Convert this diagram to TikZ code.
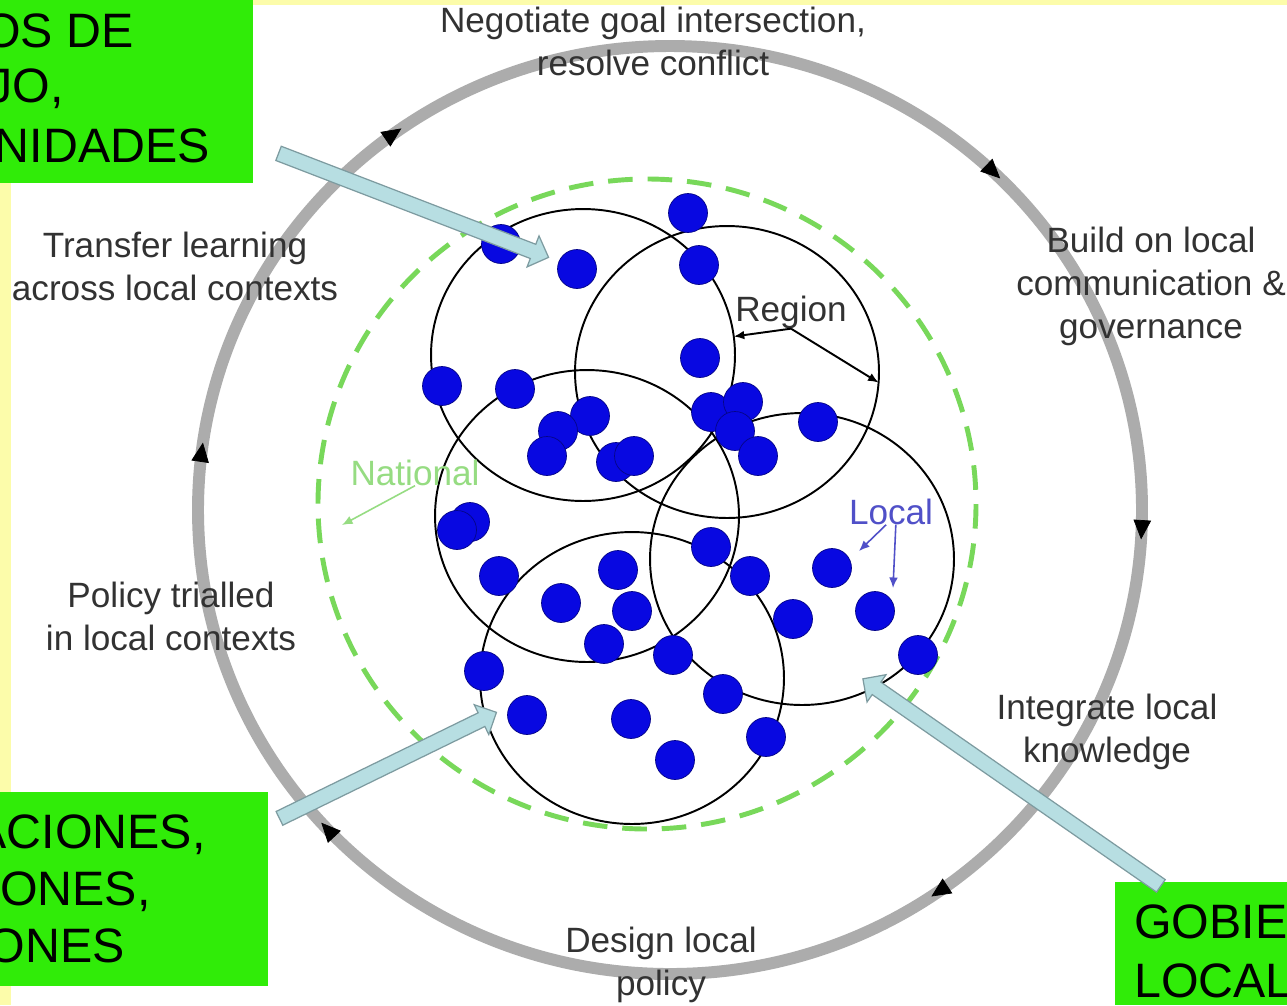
\documentclass[tikz,border=0pt]{standalone}
\usepackage{fontspec}
\setmainfont{Liberation Sans}
\usepackage{tkz-graph}
\usetikzlibrary{arrows.meta}
\usetikzlibrary{shapes.arrows}
\usetikzlibrary{shapes.geometric}
\usetikzlibrary{calc}
\usetikzlibrary{decorations.markings}

\definecolor{padyellow}{RGB}{252,252,170}
\definecolor{boxgreen}{RGB}{48,236,8}
\definecolor{ringgray}{RGB}{172,172,172}
\definecolor{labgray}{RGB}{50,50,50}
\definecolor{natgreen}{RGB}{120,216,90}
\definecolor{natlabel}{RGB}{150,220,130}
\definecolor{dotblue}{RGB}{8,8,225}
\definecolor{localblue}{RGB}{80,80,200}
\definecolor{calloutfill}{RGB}{183,222,226}
\definecolor{calloutedge}{RGB}{125,155,160}

\tikzset{ringtip/.tip = {Triangle[length = 11pt, width = 10pt]},
         lbl/.style = {font = \fontsize{20}{24.3}\selectfont, text = labgray, inner sep = 0pt, align = center, anchor = base},
         boxtext/.style = {font = \fontsize{27.5}{32}\selectfont, text = black, inner sep = 0pt},
         thinarrow/.style = {line width = 1.1pt, -{Latex[length = 6pt, width = 5pt]}},
         callout/.style = {single arrow, draw = calloutedge, fill = calloutfill, line width = 0.7pt,
                           inner xsep = 0pt, inner ysep = 0.14cm, minimum width = 0pt,
                           single arrow head extend = 0.18cm, single arrow head indent = 0pt}}

\begin{document}
\begin{tikzpicture}[x = 0.02cm, y = -0.02cm]
\useasboundingbox (0,0) rectangle (1287,1005);
\clip (0,0) rectangle (1287,1005);
\fill[padyellow] (0,0) rectangle (1287,1005);
\fill[white] (11,5) rectangle (1287,1005);
\fill[boxgreen] (0,0) rectangle (253,183);
\fill[boxgreen] (0,792) rectangle (268,986);
\fill[boxgreen] (1115,882) rectangle (1287,1005);

\draw[ringgray, line width = 6.8pt] (670,510) ellipse [x radius = 472, y radius = 464];
\path[black, postaction = {decorate}, decoration = {markings,
      mark = at position 0.010 with {\arrow{ringtip}},
      mark = at position 0.156 with {\arrow{ringtip}},
      mark = at position 0.383 with {\arrow{ringtip}},
      mark = at position 0.523 with {\arrow{ringtip}},
      mark = at position 0.653 with {\arrow{ringtip}},
      mark = at position 0.874 with {\arrow{ringtip}}}]
      (670,510) ellipse [x radius = 472, y radius = 464];
\draw[natgreen, line width = 2.8pt, dash pattern = on 14pt off 8.5pt] (647,504) ellipse [x radius = 329, y radius = 325];

\node[lbl] (negotiate) at (653,75) {Negotiate goal intersection,\\resolve conflict};
\node[lbl] (build) at (1151,338) {Build on local\\communication \&\\governance};
\node[lbl] (integrate) at (1107,762) {Integrate local\\knowledge};
\node[lbl] (design) at (661,995) {Design local\\policy};
\node[lbl] (trialled) at (171,650) {Policy trialled\\in local contexts};
\node[lbl] (transfer) at (175,300) {Transfer learning\\across local contexts};

\tikzstyle{VertexStyle}=[shape = ellipse,
                         minimum width = 6.08cm,
                         minimum height = 5.84cm,
                         inner sep = 0pt,
                         outer sep = 0pt,
                         line width = 1.1pt,
                         draw]
\Vertex[x = 583, y = 355, NoLabel]{rA}
\Vertex[x = 727, y = 372, NoLabel]{rB}
\Vertex[x = 587, y = 516, NoLabel]{rC}
\Vertex[x = 802, y = 559, NoLabel]{rD}
\Vertex[x = 632, y = 678, NoLabel]{rE}

\tikzstyle{VertexStyle}=[shape = circle,
                         minimum size = 0.78cm,
                         inner sep = 0pt,
                         fill = dotblue,
                         draw = dotblue!60!black,
                         line width = 0.4pt]
\Vertex[x = 501, y = 244, NoLabel]{d1}
\Vertex[x = 577, y = 269, NoLabel]{d2}
\Vertex[x = 688, y = 213, NoLabel]{d3}
\Vertex[x = 699, y = 265, NoLabel]{d4}
\Vertex[x = 700, y = 358, NoLabel]{d5}
\Vertex[x = 442, y = 386, NoLabel]{d6}
\Vertex[x = 515, y = 389, NoLabel]{d7}
\Vertex[x = 590, y = 416, NoLabel]{d8}
\Vertex[x = 558, y = 431, NoLabel]{d9}
\Vertex[x = 547, y = 456, NoLabel]{d10}
\Vertex[x = 616, y = 462, NoLabel]{d11}
\Vertex[x = 634, y = 456, NoLabel]{d12}
\Vertex[x = 711, y = 412, NoLabel]{d13}
\Vertex[x = 743, y = 402, NoLabel]{d14}
\Vertex[x = 735, y = 431, NoLabel]{d15}
\Vertex[x = 758, y = 456, NoLabel]{d16}
\Vertex[x = 818, y = 422, NoLabel]{d17}
\Vertex[x = 470, y = 522, NoLabel]{d18}
\Vertex[x = 457, y = 530, NoLabel]{d19}
\Vertex[x = 499, y = 576, NoLabel]{d20}
\Vertex[x = 561, y = 603, NoLabel]{d21}
\Vertex[x = 618, y = 570, NoLabel]{d22}
\Vertex[x = 632, y = 611, NoLabel]{d23}
\Vertex[x = 604, y = 644, NoLabel]{d24}
\Vertex[x = 711, y = 547, NoLabel]{d25}
\Vertex[x = 750, y = 576, NoLabel]{d26}
\Vertex[x = 793, y = 619, NoLabel]{d27}
\Vertex[x = 832, y = 568, NoLabel]{d28}
\Vertex[x = 875, y = 611, NoLabel]{d29}
\Vertex[x = 918, y = 655, NoLabel]{d30}
\Vertex[x = 673, y = 655, NoLabel]{d31}
\Vertex[x = 484, y = 671, NoLabel]{d32}
\Vertex[x = 527, y = 715, NoLabel]{d33}
\Vertex[x = 631, y = 719, NoLabel]{d34}
\Vertex[x = 723, y = 694, NoLabel]{d35}
\Vertex[x = 766, y = 737, NoLabel]{d36}
\Vertex[x = 675, y = 760, NoLabel]{d37}

\node[lbl] (region) at (791,321) {Region};
\draw[thinarrow] (region.south) -- (rA.7);
\draw[thinarrow] (region.south) -- (rB.-4);
\node[lbl, text = localblue] (local) at (891,524) {Local};
\coordinate (loc1) at (859,551);
\coordinate (loc2) at (893,588);
\draw[thinarrow, localblue, line width = 0.9pt] (local.250) -- (loc1);
\draw[thinarrow, localblue, line width = 0.9pt] (local.290) -- (loc2);
\node[lbl, text = natlabel] (national) at (415,485) {National};
\coordinate (nat1) at (342,525);
\draw[thinarrow, natlabel, line width = 0.9pt] (national.south) -- (nat1);

\node[boxtext, anchor = base east] (tl1) at (134,47) {OS DE};
\node[boxtext, anchor = base east] (tl2) at (64,102) {JO,};
\node[boxtext, anchor = base east] (tl3) at (210,162) {NIDADES};
\node[boxtext, anchor = base east] (bl1) at (206,848) {ACIONES,};
\node[boxtext, anchor = base east] (bl2) at (151,905) {ONES,};
\node[boxtext, anchor = base east] (bl3) at (125,962) {ONES};
\node[boxtext, anchor = base west] (br1) at (1134,938) {GOBIE};
\node[boxtext, anchor = base west] (br2) at (1134,997) {LOCAL};

\coordinate (ct1) at (275,152);
\coordinate (ch1) at (545,256);
\coordinate (ct2) at (276,820);
\coordinate (ch2) at (493,714);
\coordinate (ct3) at (1164,888);
\coordinate (ch3) at (866,681);
\path let \p1 = ($(ch1)-(ct1)$), \n1 = {atan2(\y1,\x1)}, \n2 = {veclen(\x1,\y1)} in
      node[callout, rotate = \n1, minimum height = \n2] (co1) at ($(ct1)!0.5!(ch1)$) {};
\path let \p1 = ($(ch2)-(ct2)$), \n1 = {atan2(\y1,\x1)}, \n2 = {veclen(\x1,\y1)} in
      node[callout, rotate = \n1, minimum height = \n2] (co2) at ($(ct2)!0.5!(ch2)$) {};
\path let \p1 = ($(ch3)-(ct3)$), \n1 = {atan2(\y1,\x1)}, \n2 = {veclen(\x1,\y1)} in
      node[callout, rotate = \n1, minimum height = \n2] (co3) at ($(ct3)!0.5!(ch3)$) {};
\end{tikzpicture}
\end{document}
